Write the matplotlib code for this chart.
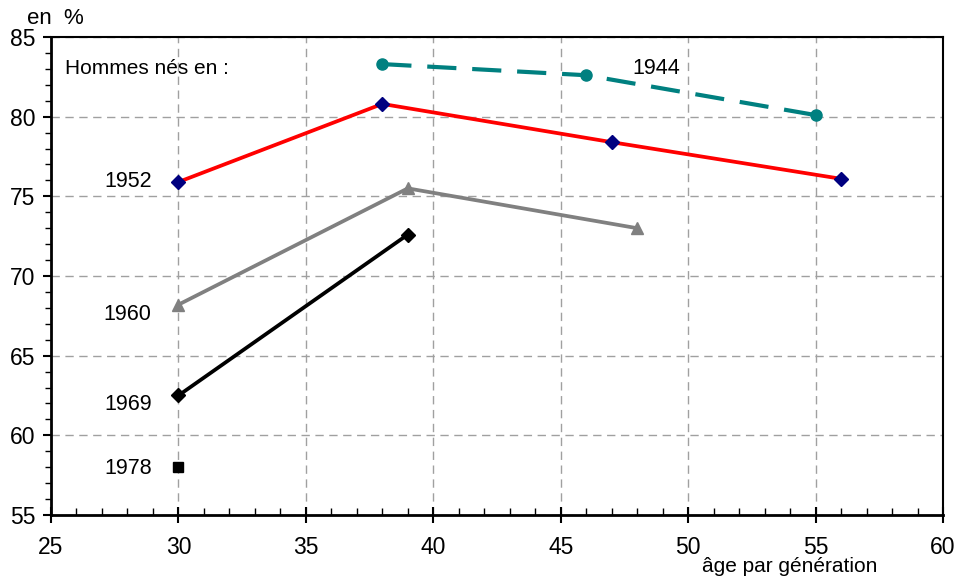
import matplotlib.pyplot as plt
from matplotlib.ticker import MultipleLocator

plt.rcParams['font.family'] = ['Liberation Sans', 'DejaVu Sans']

# data (age, share in %)
age_1944 = [38, 46, 55]
val_1944 = [83.3, 82.6, 80.1]
age_1952 = [30, 38, 47, 56]
val_1952 = [75.9, 80.8, 78.4, 76.1]
age_1960 = [30, 39, 48]
val_1960 = [68.2, 75.5, 73.0]
age_1969 = [30, 39]
val_1969 = [62.5, 72.6]
age_1978 = [30]
val_1978 = [58.0]

fig = plt.figure(figsize=(9.58, 5.79), dpi=100)
ax = fig.add_axes([51 / 958, 64 / 579, 892 / 958, 478 / 579])

ax.plot(age_1944, val_1944, color='#008080', lw=3, ls=(0, (7, 3.8)),
        marker='o', ms=8, zorder=5)
ax.plot(age_1952, val_1952, color='#ff0000', lw=2.7,
        marker='D', ms=7, mfc='#000080', mec='#000080', zorder=5)
ax.plot(age_1960, val_1960, color='#808080', lw=2.7,
        marker='^', ms=9, zorder=5)
ax.plot(age_1969, val_1969, color='black', lw=2.7,
        marker='D', ms=7, zorder=5)
ax.plot(age_1978, val_1978, color='black', ls='none',
        marker='s', ms=7, zorder=5)

ax.set_xlim(25, 60)
ax.set_ylim(55, 85)
ax.xaxis.set_major_locator(MultipleLocator(5))
ax.xaxis.set_minor_locator(MultipleLocator(1))
ax.yaxis.set_major_locator(MultipleLocator(5))
ax.yaxis.set_minor_locator(MultipleLocator(1))

ax.grid(True, which='major', color='#a0a0a0', ls=(0, (6, 4)), lw=1)
ax.set_axisbelow(True)

ax.tick_params(axis='x', which='major', direction='inout', length=12, width=1.5,
               labelsize=16.5, pad=9)
ax.tick_params(axis='x', which='minor', direction='in', length=5, width=1)
ax.tick_params(axis='y', which='major', direction='out', length=6, width=1.5,
               labelsize=16.5, pad=5)
ax.tick_params(axis='y', which='minor', direction='out', length=4, width=1)

for side in ['left', 'bottom']:
    ax.spines[side].set_linewidth(2)
for side in ['top', 'right']:
    ax.spines[side].set_linewidth(1.5)

ax.text(25.55, 83.05, 'Hommes nés en :', fontsize=15, va='center')
ax.text(49.7, 83.05, '1944', fontsize=15.5, ha='right', va='center')
ax.text(28.95, 75.9, '1952', fontsize=15.5, ha='right', va='center')
ax.text(28.95, 67.6, '1960', fontsize=15.5, ha='right', va='center')
ax.text(28.95, 61.95, '1969', fontsize=15.5, ha='right', va='center')
ax.text(28.95, 57.9, '1978', fontsize=15.5, ha='right', va='center')

fig.text(27 / 958, 1 - 18 / 579, 'en  %', fontsize=16, va='center')
fig.text(790 / 958, 1 - 567 / 579, 'âge par génération', fontsize=15,
         ha='center', va='center')

fig.savefig('out.png', dpi=100)
